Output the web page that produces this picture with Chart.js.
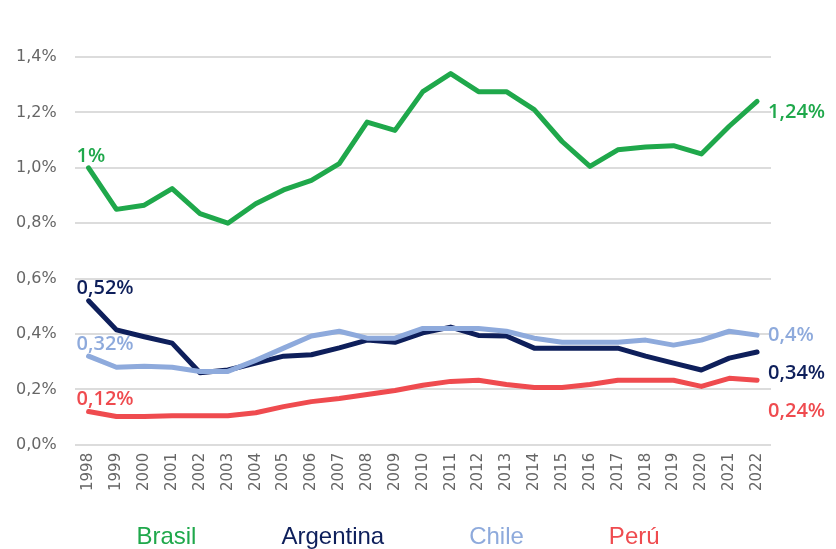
<!DOCTYPE html>
<html>
<head>
<meta charset="utf-8">
<script src="https://cdn.jsdelivr.net/npm/chart.js@4"></script>
<style>
  body { margin: 0; background: #fff; }
  #wrap { width: 836px; height: 549px; position: relative; }
</style>
</head>
<body>
<div id="wrap"><canvas id="graphCanvas"></canvas></div>
<script>
// Datos (% del PIB)
const years = ['1998','1999','2000','2001','2002','2003','2004','2005','2006','2007','2008','2009','2010',
               '2011','2012','2013','2014','2015','2016','2017','2018','2019','2020','2021','2022'];
const brasil    = [1.00,0.85,0.865,0.925,0.835,0.80,0.87,0.92,0.955,1.015,1.165,1.135,1.275,
                   1.34,1.275,1.275,1.21,1.095,1.005,1.065,1.075,1.08,1.05,1.15,1.24];
const argentina = [0.52,0.415,0.39,0.367,0.26,0.27,0.295,0.32,0.325,0.35,0.378,0.37,0.404,
                   0.425,0.395,0.393,0.349,0.349,0.349,0.349,0.32,0.295,0.27,0.313,0.335];
const chile     = [0.32,0.28,0.284,0.28,0.265,0.265,0.305,0.349,0.393,0.41,0.385,0.385,0.42,
                   0.42,0.42,0.41,0.385,0.37,0.37,0.37,0.378,0.36,0.378,0.41,0.396];
const peru      = [0.12,0.102,0.102,0.105,0.105,0.105,0.116,0.138,0.156,0.167,0.182,0.196,0.215,
                   0.229,0.233,0.218,0.207,0.207,0.218,0.233,0.233,0.233,0.211,0.24,0.233];
const startLabels = ['1%', '0,52%', '0,32%', '0,12%'];
const endLabels   = ['1,24%', '0,34%', '0,4%', '0,24%'];

const colors = ['#1fa84b', '#0e1f5b', '#8eaadc', '#ef4b4f'];
const endOffsetY = [11, 21, 0, 31]; // separa las etiquetas finales

// Etiquetas de inicio y fin de cada línea
const lineLabels = {
    id: 'lineLabels',
    afterDatasetsDraw(chart) {
        const ctx = chart.ctx;
        ctx.save();
        ctx.font = '600 20px "Open Sans"';
        chart.data.datasets.forEach((ds, i) => {
            const pts = chart.getDatasetMeta(i).data;
            const first = pts[0];
            const last = pts[pts.length - 1];
            ctx.fillStyle = colors[i];
            ctx.textAlign = 'left';
            ctx.textBaseline = 'bottom';
            ctx.fillText(startLabels[i], first.x - 12, first.y - 2);
            ctx.textBaseline = 'middle';
            ctx.fillText(endLabels[i], last.x + 11, last.y + endOffsetY[i]);
        });
        ctx.restore();
    }
};

const ctx = document.getElementById('graphCanvas').getContext('2d');
const chart = new Chart(ctx, {
    type: 'line',
    data: {
        labels: years,
        datasets: [
            { label: 'Brasil', data: brasil, borderColor: colors[0], order: 2 },
            { label: 'Argentina', data: argentina, borderColor: colors[1], order: 1 },
            { label: 'Chile', data: chile, borderColor: colors[2], order: 0 },
            { label: 'Perú', data: peru, borderColor: colors[3], order: 3 }
        ]
    },
    options: {
        responsive: true,
        maintainAspectRatio: false,
        animation: false,
        elements: {
            line: { borderWidth: 5, tension: 0, borderCapStyle: 'round', borderJoinStyle: 'round', fill: false },
            point: { radius: 0 }
        },
        // el margen izquierdo negativo mueve la leyenda; el eje y lo compensa en afterFit
        layout: { padding: { top: 57, right: 65, left: -26, bottom: -10 } },
        plugins: {
            tooltip: { enabled: false },
            legend: {
                position: 'bottom',
                labels: {
                    boxWidth: 39,
                    padding: 34,
                    font: { family: '"Liberation Sans Narrow", "Liberation Sans"', size: 24 },
                    generateLabels: (c) => c.data.datasets.map((ds, i) => ({
                        text: ds.label,
                        fontColor: colors[i],
                        fillStyle: 'rgba(0,0,0,0)',
                        strokeStyle: 'rgba(0,0,0,0)',
                        lineWidth: 0,
                        datasetIndex: i
                    }))
                }
            }
        },
        scales: {
            x: {
                offset: true,
                grid: { display: false },
                border: { display: false },
                ticks: {
                    minRotation: 90,
                    maxRotation: 90,
                    autoSkip: false,
                    padding: 0,
                    color: '#666',
                    font: { family: '"DejaVu Sans"', size: 15 }
                }
            },
            y: {
                min: 0,
                max: 1.4,
                border: { display: false },
                grid: { color: '#dcdcdc', lineWidth: 2, drawTicks: false },
                afterFit: (scale) => { scale.width += 24; },
                ticks: {
                    stepSize: 0.2,
                    padding: 18,
                    color: '#666',
                    font: { family: '"DejaVu Sans"', size: 16 },
                    callback: (v) => v.toFixed(1).replace('.', ',') + '%'
                }
            }
        }
    },
    plugins: [lineLabels]
});
</script>
</body>
</html>
